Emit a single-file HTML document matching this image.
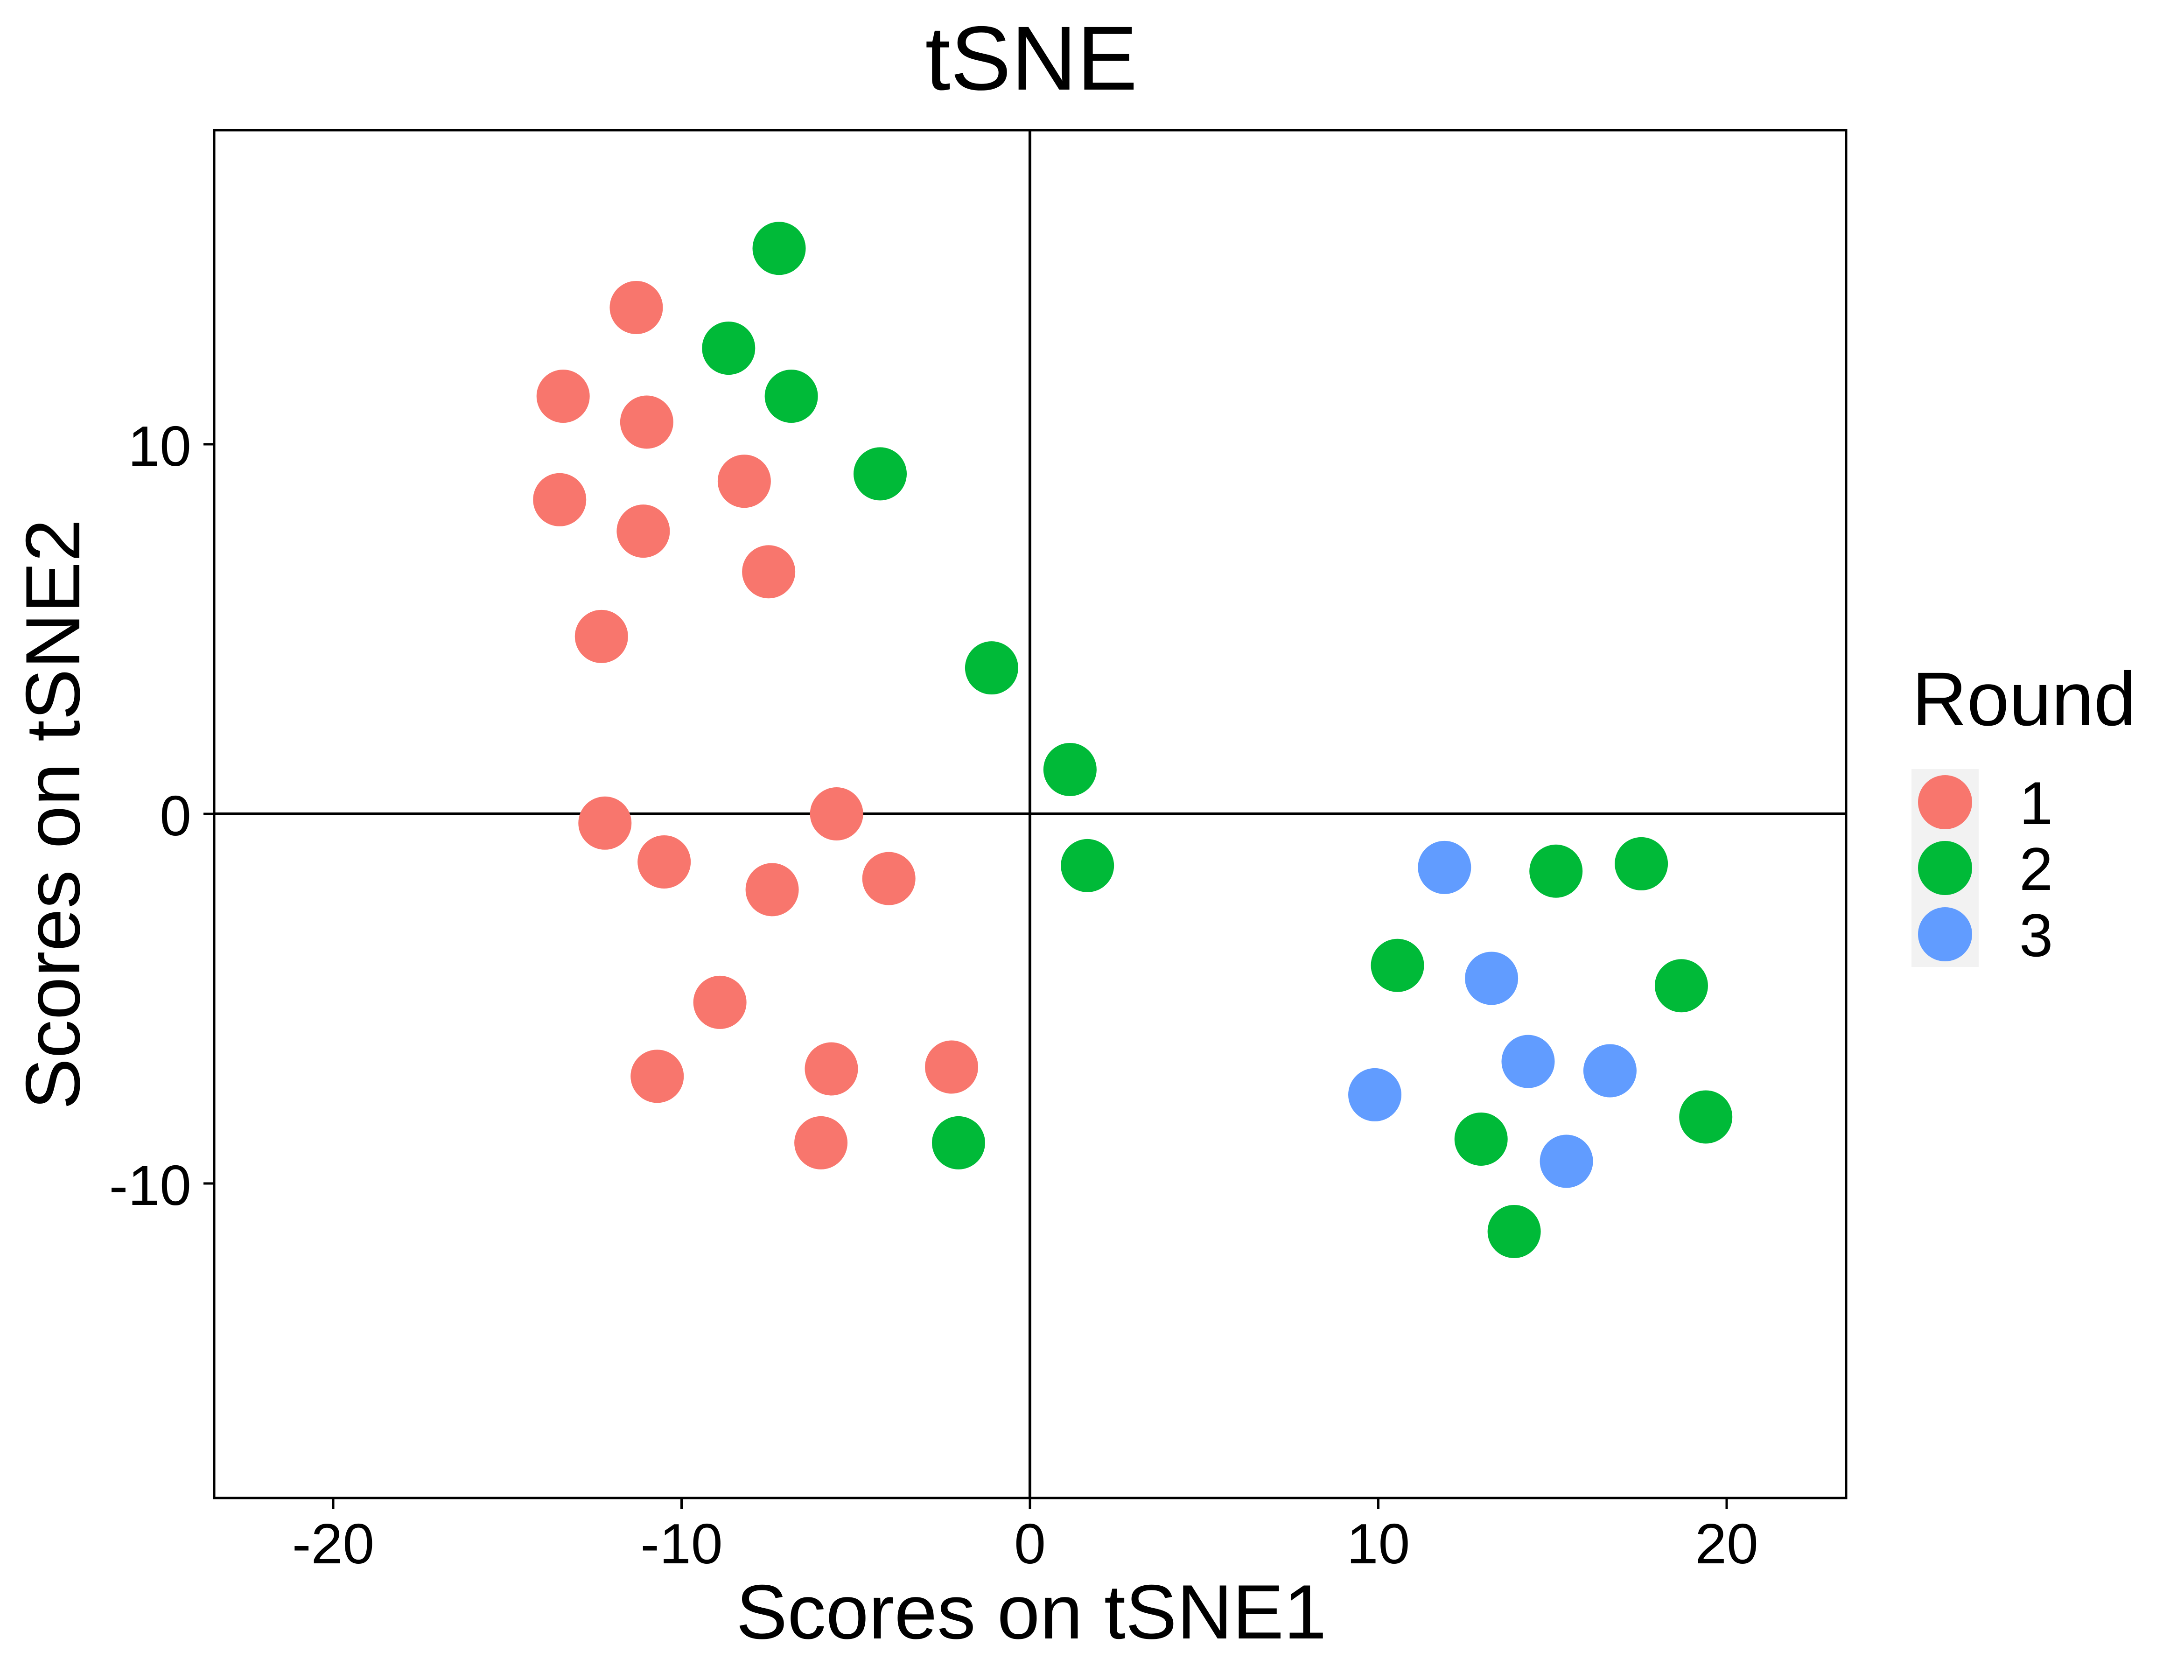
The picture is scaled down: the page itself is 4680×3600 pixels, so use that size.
<!DOCTYPE html>
<html><head><meta charset="utf-8"><style>html,body{margin:0;padding:0;background:#fff}svg{display:block}</style></head>
<body>
<svg id="chart" width="4680" height="3600" viewBox="0 0 4680 3600" xmlns="http://www.w3.org/2000/svg" font-family="Liberation Sans, Arial, sans-serif">
<rect width="4680" height="3600" fill="#fff"/>
<text x="2210" y="192" font-size="195" text-anchor="middle">tSNE</text>
<g id="plot"></g>
<text x="2210" y="3511" font-size="165" text-anchor="middle">Scores on tSNE1</text>
<text transform="translate(170,1745) rotate(-90)" font-size="165" text-anchor="middle">Scores on tSNE2</text>
<g transform="translate(0,8)">
<text x="4097" y="1546" font-size="163">Round</text>
<rect x="4096" y="1640" width="144" height="424" fill="#f2f2f2"/>
<circle cx="4168" cy="1711" r="58" fill="#F8766D"/>
<circle cx="4168" cy="1852" r="58" fill="#00BA38"/>
<circle cx="4168" cy="1994" r="58" fill="#619CFF"/>
<text x="4327" y="1758" font-size="130">1</text>
<text x="4327" y="1899" font-size="130">2</text>
<text x="4327" y="2041" font-size="130">3</text>
</g>
</svg>
<script>
const xTicks = [-20, -10, 0, 10, 20];
const yTicks = [-10, 0, 10];
const round1X = [-11.3,-13.4,-11.0,-13.5,-8.2,-11.1,-7.5,-12.3,-12.2,-5.55,-10.5,-7.4,-4.05,-8.9,-10.7,-5.7,-2.25,-6.0];
const round1Y = [13.7,11.3,10.6,8.5,9.0,7.65,6.55,4.8,-0.25,0,-1.3,-2.05,-1.75,-5.1,-7.1,-6.9,-6.85,-8.9];
const round2X = [-7.2,-8.65,-6.85,-4.3,-1.1,1.15,1.65,-2.05,10.55,15.1,17.55,18.7,19.4,12.95,13.9];
const round2Y = [15.3,12.6,11.3,9.2,3.95,1.2,-1.4,-8.9,-4.1,-1.55,-1.35,-4.65,-8.2,-8.8,-11.3];
const round3X = [11.9,13.25,14.3,16.65,9.9,15.4];
const round3Y = [-1.45,-4.45,-6.7,-6.95,-7.6,-9.4];

const NS = "http://www.w3.org/2000/svg";
const L = 459, R = 3956, T = 279, B = 3210;
const sx = v => 2207 + 74.65 * v;
const sy = v => 1744 - 79.2 * v;
const g = document.getElementById('plot');
function mk(tag, attrs) { const e = document.createElementNS(NS, tag); for (const k in attrs) e.setAttribute(k, attrs[k]); g.appendChild(e); return e; }

let e = mk('line', {x1: sx(0), x2: sx(0), y1: T, y2: B, stroke: '#000', 'stroke-width': 6});


e = mk('line', {x1: L, x2: R, y1: sy(0), y2: sy(0), stroke: '#000', 'stroke-width': 6});



const series = [[round1X, round1Y, '#F8766D', 'round-1'], [round2X, round2Y, '#00BA38', 'round-2'], [round3X, round3Y, '#619CFF', 'round-3']];
series.forEach(s => {
  s[0].forEach((x, i) => {
    const c = mk('circle', {cx: sx(x), cy: sy(s[1][i]), r: 57, fill: s[2]});
    
    
  });
});

e = mk('rect', {x: L, y: T, width: R - L, height: B - T, fill: 'none', stroke: '#000', 'stroke-width': 5});



xTicks.forEach(v => {
  const t = mk('line', {x1: sx(v), x2: sx(v), y1: B, y2: B + 23, stroke: '#000', 'stroke-width': 5});
  
  
  const lb = mk('text', {x: sx(v), y: 3350, 'font-size': 122, 'text-anchor': 'middle'});
  lb.textContent = String(v);
  
  
});
yTicks.forEach(v => {
  const t = mk('line', {x1: L - 23, x2: L, y1: sy(v), y2: sy(v), stroke: '#000', 'stroke-width': 5});
  
  
  const lb = mk('text', {x: 410, y: sy(v) + 46, 'font-size': 122, 'text-anchor': 'end'});
  lb.textContent = String(v);
  
  
});
</script>
</body></html>
